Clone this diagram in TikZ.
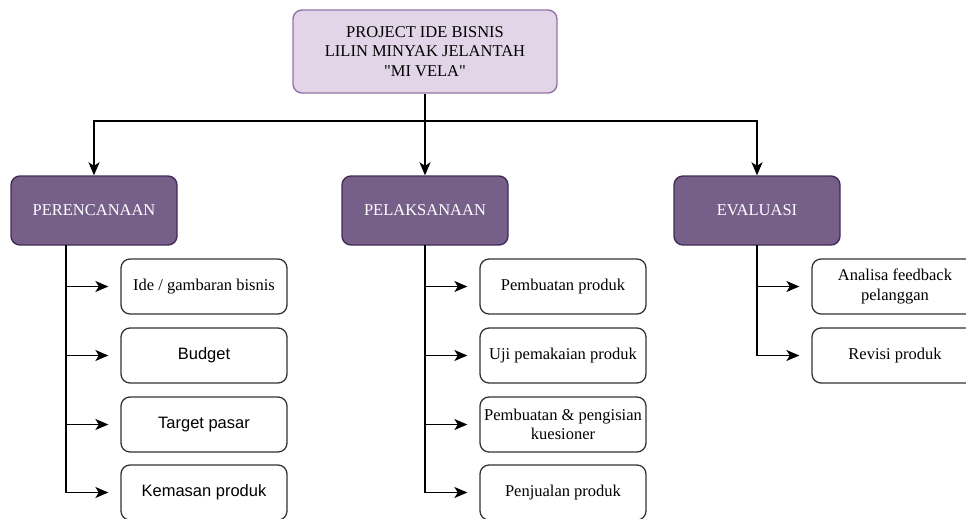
\documentclass[tikz,border=0pt]{standalone}
\usepackage{fontspec}
\setmainfont{Liberation Serif}
\newfontfamily\arialf{Liberation Sans}
\usetikzlibrary{arrows.meta}
\definecolor{topfill}{HTML}{E1D5E7}
\definecolor{topdraw}{HTML}{9673A6}
\definecolor{catfill}{HTML}{76608A}
\definecolor{catdraw}{HTML}{432D57}
\begin{document}
\begin{tikzpicture}[x=1pt,y=-1pt,
  every node/.style={inner sep=0pt},
  topbox/.style={draw=topdraw,fill=topfill,line width=1.4pt,rounded corners=9pt,minimum width=264pt,minimum height=83pt,align=center,font=\fontsize{16.5}{19.5}\selectfont},
  catbox/.style={draw=catdraw,fill=catfill,line width=1.4pt,rounded corners=9pt,minimum width=166pt,minimum height=69pt,text=white,font=\fontsize{16.5}{19.5}\selectfont},
  itembox/.style={draw=black!80,fill=white,line width=1.3pt,rounded corners=9pt,minimum width=166pt,minimum height=55pt,align=center,font=\fontsize{16.5}{19.5}\selectfont},
  sansitem/.style={itembox,font=\arialf\fontsize{16.5}{19.5}\selectfont},
  conn/.style={line width=1.5pt,-{Stealth[length=13pt,width=11pt,inset=3.5pt]}},
  plain/.style={line width=1.5pt}]
\useasboundingbox (0,0) rectangle (966,519);
\node[topbox] (top) at (425,51.5) {PROJECT IDE BISNIS\\LILIN MINYAK JELANTAH\\\textquotedbl MI VELA\textquotedbl};
\node[catbox] (c1) at (94,210.5) {PERENCANAAN};
\node[catbox] (c2) at (425,210.5) {PELAKSANAAN};
\node[catbox] (c3) at (757,210.5) {EVALUASI};
% connectors from top
\coordinate (j) at (425,121);
\draw[plain] (top.south) -- (j);
\draw[conn] (j) -| (c1.north);
\draw[conn] (j) -- (c2.north);
\draw[conn] (j) -| (c3.north);
% left items
\node[itembox] (a1) at (204,286.5) {Ide / gambaran bisnis};
\node[sansitem] (a2) at (204,355.5) {Budget};
\node[sansitem] (a3) at (204,424.5) {Target pasar};
\node[sansitem] (a4) at (204,492.5) {Kemasan produk};
% middle items
\node[itembox] (b1) at (563,286.5) {Pembuatan produk};
\node[itembox] (b2) at (563,355.5) {Uji pemakaian produk};
\node[itembox] (b3) at (563,424.5) {Pembuatan \& pengisian\\kuesioner};
\node[itembox] (b4) at (563,492.5) {Penjualan produk};
% right items
\node[itembox] (e1) at (895,286.5) {Analisa feedback\\pelanggan};
\node[itembox] (e2) at (895,355.5) {Revisi produk};
% left connectors
\coordinate (la) at (66,245);
\foreach \n in {a1,a2,a3,a4}{
  \draw[conn] (la) |- ([xshift=-12pt]\n.west);
}
\coordinate (ma) at (425,245);
\foreach \n in {b1,b2,b3,b4}{
  \draw[conn] (ma) |- ([xshift=-12pt]\n.west);
}
\coordinate (ra) at (757,245);
\foreach \n in {e1,e2}{
  \draw[conn] (ra) |- ([xshift=-12pt]\n.west);
}
\end{tikzpicture}
\end{document}
